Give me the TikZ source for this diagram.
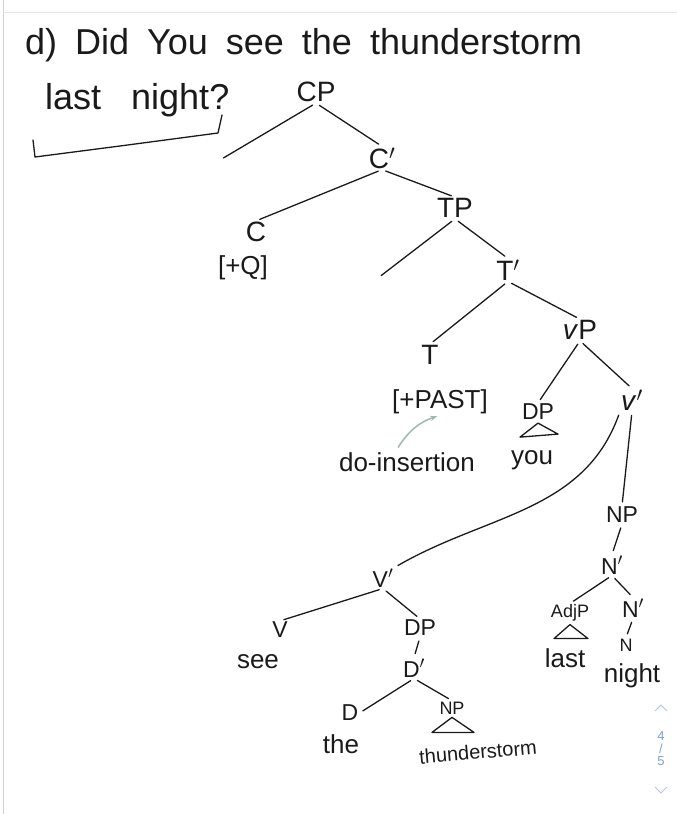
\documentclass[tikz,border=0pt]{standalone}
\usepackage{fontspec}
\setmainfont{Liberation Sans}
\usepackage{tikz}
\usetikzlibrary{arrows.meta,positioning}
\definecolor{ink}{HTML}{1A1A1A}
\definecolor{pencil}{HTML}{9DB8B0}
\definecolor{pager}{HTML}{7F9ED6}
\newcommand\wordgap[1]{\spaceskip=#1\relax}
\begin{document}
\begin{tikzpicture}[x=1pt,y=-1pt,
  line/.style={draw=ink,line width=1.3pt,line cap=round,line join=round},
  br/.style={line,shorten <=4pt,shorten >=4pt},
  title/.style={inner sep=0pt,anchor=west,font=\fontsize{36}{42}\selectfont\wordgap{18pt},text=ink},
  cat/.style={inner sep=1pt,font=\fontsize{28}{32}\selectfont,text=ink},
  catm/.style={inner sep=1pt,font=\fontsize{23}{27}\selectfont,text=ink},
  cats/.style={inner sep=1pt,font=\fontsize{18}{21}\selectfont,text=ink},
  word/.style={inner sep=1pt,font=\fontsize{26}{30}\selectfont,text=ink},
  feat/.style={inner sep=1pt,font=\fontsize{26}{30}\selectfont,text=ink},
  pg/.style={inner sep=0pt,text=pager,font=\fontsize{13}{15}\selectfont}]
\useasboundingbox (0,0) rectangle (677,814);
\draw[gray!35,line width=1pt] (3,0) -- (3,814);
\draw[gray!20,line width=0.8pt] (3,12) -- (677,12);
% question
\node[title] (q1) at (25,45) {d) Did You see the thunderstorm};
\node[title,font=\fontsize{36}{42}\selectfont\wordgap{30pt}] (q2) at (45,100) {last night?};
\draw[line] (33,140) -- (35,157) -- (120,146) -- (218,133) -- (222,115);
% upper tree
\node[cat] (cp) at (316,92) {CP};
\coordinate (cpspec) at (220,160);
\node[cat] (cbar) at (382,158) {C$'$};
\node[cat] (c) at (256,232) {C};
\node[feat] (cq) at (243,268) {[+Q]};
\node[cat] (tp) at (455,208) {TP};
\coordinate (tpspec) at (378,278);
\node[cat] (tbar) at (508,270) {T$'$};
\node[cat] (t) at (430,355) {T};
\node[feat] (tpast) at (440,402) {[+PAST]};
\node[word] (doins) at (407,462) {do-insertion};
\node[cat] (vp) at (580,330) {\textit{v}P};
\node[catm] (dpyou) at (538,412) {DP};
\node[word] (you) at (532,460) {you};
\node[cat] (vbar) at (632,400) {\textit{v}$'$};
% object and adjunct
\node[catm] (npnight) at (622,515) {NP};
\node[catm] (nbara) at (612,565) {N$'$};
\node[cats] (adjp) at (570,613) {AdjP};
\node[word] (last) at (565,658) {last};
\node[catm] (nbarb) at (633,608) {N$'$};
\node[cats] (n) at (626,645) {N};
\node[word] (night) at (632,676) {night};
\node[catm] (vbarv) at (383,578) {V$'$};
\node[catm] (v) at (280,630) {V};
\node[word] (see) at (258,662) {see};
\node[catm] (dpthe) at (420,628) {DP};
\node[catm] (dbar) at (414,668) {D$'$};
\node[catm] (d) at (350,713) {D};
\node[word] (the) at (341,744) {the};
\node[cats] (npthe) at (452,708) {NP};
\node[word,rotate=5,font=\fontsize{20}{24}\selectfont] (storm) at (478,752) {thunderstorm};
% branches
\draw[br] (cp.south) -- (cpspec);
\draw[br] (cp.south) -- (cbar.north);
\draw[br] (cbar.south) -- (c.north);
\draw[br] (cbar.south) -- (tp.north);
\draw[br] (tp.south) -- (tpspec);
\draw[br] (tp.south) -- (tbar.north);
\draw[br] (tbar.south) -- (t.north);
\draw[br] (tbar.south) -- (vp.north);
\draw[br] (vp.south) -- (dpyou.north);
\draw[br] (vp.south) -- (vbar.north);
\draw[br] (vbar.south west) to[out=250,in=30] (vbarv.north east);
\draw[br] (vbar.south) -- (npnight.north);
\draw[br] (npnight.south) -- (nbara.north);
\draw[br] (nbara.south) -- (adjp.north);
\draw[br] (nbara.south) -- (nbarb.north);
\draw[br] (nbarb.south) -- (n.north);
\draw[br] (vbarv.south) -- (v.north);
\draw[br] (vbarv.south) -- (dpthe.north);
\draw[br] (dpthe.south) -- (dbar.north);
\draw[br] (dbar.south) -- (d.east);
\draw[br] (dbar.south) -- (npthe.north);
% roofs
\draw[line] ([yshift=-2pt]dpyou.south) -- ++(-18,14) -- ++(38,-3) -- cycle;
\draw[line] ([yshift=-2pt]adjp.south) -- ++(-16,14) -- ++(34,0) -- cycle;
\draw[line] ([yshift=-2pt]npthe.south) -- ++(-20,15) -- ++(42,0) -- cycle;
% do-support
\coordinate (doa) at ([xshift=-10pt,yshift=2pt]doins.north);
\draw[pencil,line width=1.5pt,-{Stealth[length=7pt]},shorten <=2pt,shorten >=3pt]
  (doa) to[bend left=20] (tpast.south);
% pager
\node[pg] (pa) at (661,736) {4};
\node[pg,below=3pt of pa] (pb) {/};
\node[pg,below=3pt of pb] (pc) {5};
\draw[pager!60,line width=0.8pt] (655,711) -- (661,705) -- (667,711);
\draw[pager!60,line width=0.8pt] (655,787) -- (661,793) -- (667,787);
\end{tikzpicture}
\end{document}
